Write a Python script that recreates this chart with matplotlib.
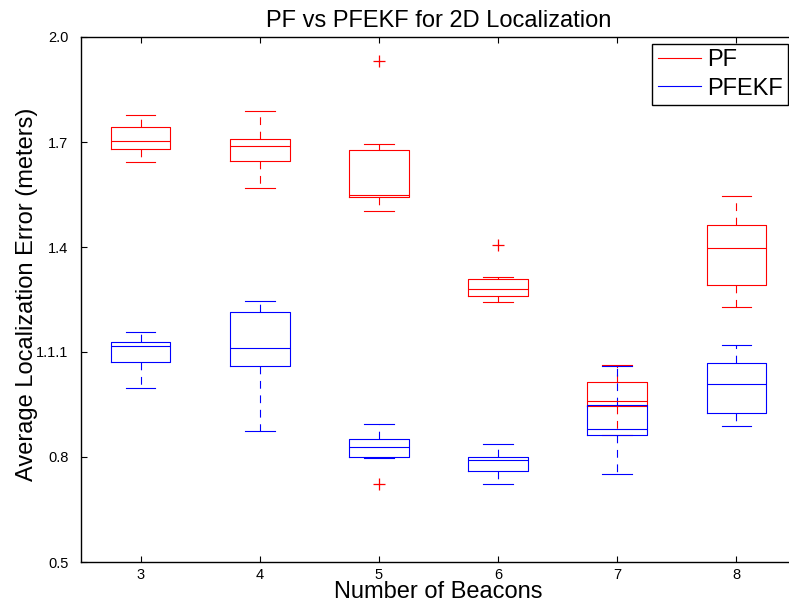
import matplotlib
matplotlib.use("Agg")
import matplotlib.pyplot as plt
from matplotlib.lines import Line2D

plt.rcParams['font.family'] = ['Liberation Sans', 'DejaVu Sans']

# Number of beacons on the x axis
beacons = [3, 4, 5, 6, 7, 8]

# PF localization error statistics (meters)
pf_whislo = [1.644, 1.568, 1.503, 1.244, 0.862, 1.228]
pf_q1 = [1.679, 1.646, 1.543, 1.260, 0.947, 1.291]
pf_med = [1.702, 1.690, 1.548, 1.279, 0.960, 1.396]
pf_q3 = [1.742, 1.708, 1.677, 1.309, 1.013, 1.463]
pf_whishi = [1.776, 1.789, 1.693, 1.314, 1.064, 1.547]
pf_fliers = [[], [], [1.932], [1.405], [], []]

# PFEKF localization error statistics (meters)
ekf_whislo = [0.996, 0.875, 0.798, 0.723, 0.751, 0.889]
ekf_q1 = [1.071, 1.060, 0.801, 0.760, 0.862, 0.926]
ekf_med = [1.117, 1.111, 0.829, 0.791, 0.880, 1.008]
ekf_q3 = [1.130, 1.213, 0.852, 0.799, 0.949, 1.069]
ekf_whishi = [1.156, 1.247, 0.893, 0.838, 1.060, 1.121]
ekf_fliers = [[], [], [0.723], [], [], []]

ytick_values = [0.5, 0.8, 1.1, 1.4, 1.7, 2.0]
ytick_labels = ['0.5', '0.8', '1.1.1', '1.4', '1.7', '2.0']
series_names = ['PF', 'PFEKF']


def make_stats(lo, q1, med, q3, hi, fl):
    return [dict(whislo=a, q1=b, med=c, q3=d, whishi=e, fliers=f)
            for a, b, c, d, e, f in zip(lo, q1, med, q3, hi, fl)]


fig = plt.figure(figsize=(7.89, 6.03), dpi=100)
ax = fig.add_axes([81 / 789, 41 / 603, 715 / 789, 525 / 603])

lw = 0.8
dash = (0, (7, 6))
for stats, color in [
    (make_stats(pf_whislo, pf_q1, pf_med, pf_q3, pf_whishi, pf_fliers), 'red'),
    (make_stats(ekf_whislo, ekf_q1, ekf_med, ekf_q3, ekf_whishi, ekf_fliers), 'blue'),
]:
    ax.bxp(stats, positions=beacons, widths=0.5, manage_ticks=False,
           boxprops=dict(color=color, linewidth=lw),
           medianprops=dict(color=color, linewidth=lw),
           whiskerprops=dict(color=color, linewidth=lw, linestyle=dash),
           capprops=dict(color=color, linewidth=lw),
           flierprops=dict(marker='+', markeredgecolor='red', markersize=8,
                           markeredgewidth=0.9, linestyle='none'))

ax.set_xlim(2.5, 8.5)
ax.set_ylim(0.5, 2.0)
ax.set_xticks(beacons)
ax.set_xticklabels([str(b) for b in beacons])
ax.set_yticks(ytick_values)
ax.set_yticklabels(ytick_labels)
ax.tick_params(direction='in', top=True, right=True, length=4.5, width=0.8,
               labelsize=10.5, colors='black')
ax.tick_params(axis='x', pad=4)
ax.tick_params(axis='y', pad=9)
for s in ax.spines.values():
    s.set_linewidth(1.0)

ax.set_title('PF vs PFEKF for 2D Localization', fontsize=17, pad=7)
ax.set_xlabel('Number of Beacons', fontsize=17)
ax.xaxis.set_label_coords(0.5, -0.037)
ax.xaxis.label.set_va('top')
ax.set_ylabel('Average Localization Error (meters)', fontsize=17)
ax.yaxis.set_label_coords(-0.060, 0.51)

handles = [Line2D([], [], color='red', linewidth=lw),
           Line2D([], [], color='blue', linewidth=lw)]
leg = ax.legend(handles, series_names, loc='upper right',
                bbox_to_anchor=(0.989, 0.987), borderaxespad=0,
                fontsize=17, fancybox=False, framealpha=1, edgecolor='black',
                handlelength=1.85, handletextpad=0.25, borderpad=0.22,
                labelspacing=0.28)
leg.get_frame().set_linewidth(1.0)

fig.savefig('out.png', dpi=100)
